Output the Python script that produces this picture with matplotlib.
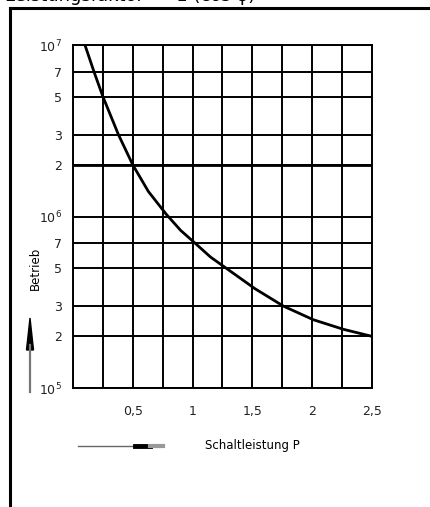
import numpy as np
import matplotlib.pyplot as plt

# Werte
leistung = [0.10, 0.175, 0.25, 0.38, 0.50, 0.63, 0.78, 0.90, 1.02, 1.15, 1.28, 1.52, 1.76, 2.01, 2.26, 2.50]
betrieb = [1.0e7, 7.0e6, 5.0e6, 3.0e6, 2.0e6, 1.4e6, 1.03e6, 8.3e5, 7.0e5, 5.8e5, 5.0e5, 3.8e5, 3.0e5, 2.5e5, 2.2e5, 2.0e5]
grenze = 2e6

x_grid = np.arange(0, 2.51, 0.25)
x_ticks = [0.5, 1.0, 1.5, 2.0, 2.5]
x_labels = ['0,5', '1', '1,5', '2', '2,5']
y_ticks = [1e5, 2e5, 3e5, 5e5, 7e5, 1e6, 2e6, 3e6, 5e6, 7e6, 1e7]
y_labels = ['$10^{5}$', '2', '3', '5', '7', '$10^{6}$', '2', '3', '5', '7', '$10^{7}$']

fig = plt.figure(figsize=(4.31, 5.07), dpi=100)
ax = fig.add_axes([73/431, 1-388/507, 299/431, 343/507])

ax.set_yscale('log')
ax.set_xlim(0, 2.5)
ax.set_ylim(1e5, 1e7)

for xv in x_grid:
    ax.axvline(xv, color='black', lw=1.4, zorder=1)
for yv in y_ticks:
    ax.axhline(yv, color='black', lw=1.4, zorder=1)
ax.axhline(grenze, color='black', lw=2.0, zorder=2)

ax.plot(leistung, betrieb, color='black', lw=2.0, zorder=3)

ax.set_xticks(x_ticks)
ax.set_xticklabels(x_labels, fontsize=9, color='#222222')
ax.set_yticks(y_ticks)
ax.set_yticklabels(y_labels, fontsize=9, color='#222222')
ax.yaxis.set_minor_locator(plt.NullLocator())
ax.xaxis.set_minor_locator(plt.NullLocator())
ax.tick_params(axis='both', length=0)
ax.tick_params(axis='x', pad=12)
ax.tick_params(axis='y', pad=8)
for s in ax.spines.values():
    s.set_linewidth(1.4)

# Rahmen oben und links
fig.add_artist(plt.Line2D([10/431, 1], [1-8/507, 1-8/507], color='black', lw=2.2))
fig.add_artist(plt.Line2D([10/431, 10/431], [0, 1-8/507], color='black', lw=2.2))
fig.text(5/431, 1+4/507, 'Leistungsfaktor  = 1 (cos \u03c6)', fontsize=13, va='center', ha='left')

# Achsenbeschriftungen mit Pfeilen
fig.text(35/431, 1-268/507, 'Betrieb', rotation=90, fontsize=8.5, ha='center', va='center')
fig.add_artist(plt.Line2D([30/431, 30/431], [1-392/507, 1-345/507], color='#777777', lw=1.6))
fig.add_artist(plt.Polygon([[30/431, 1-318/507], [26.5/431, 1-350/507], [33.5/431, 1-350/507]],
                           closed=True, color='black', transform=fig.transFigure))

fig.text(205/431, 1-446/507, 'Schaltleistung P', fontsize=8.5, ha='left', va='center')
fig.add_artist(plt.Line2D([78/431, 138/431], [1-446/507, 1-446/507], color='#666666', lw=1.0))
fig.add_artist(plt.Line2D([135/431, 150/431], [1-446/507, 1-446/507], color='black', lw=3.5))
fig.add_artist(plt.Line2D([150/431, 163/431], [1-446/507, 1-446/507], color='#999999', lw=3.0))

fig.savefig('out.png', dpi=100)
